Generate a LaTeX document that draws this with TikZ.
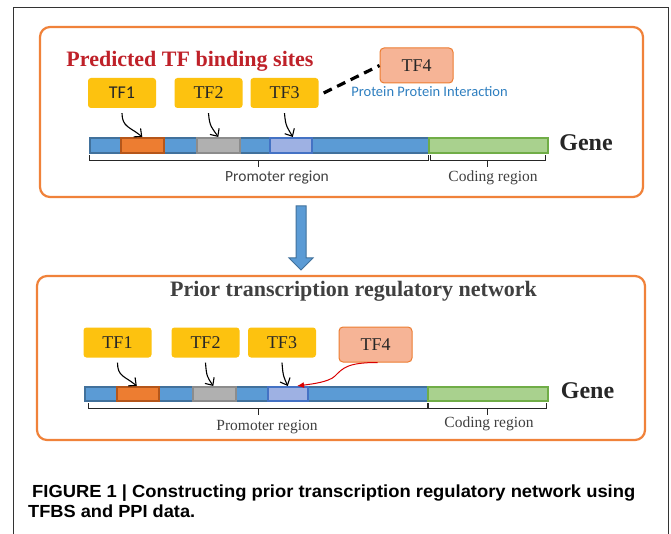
\documentclass[tikz,border=0pt]{standalone}
\usepackage{fontspec}
\usepackage{graphicx}
\setmainfont{Liberation Serif}
\newfontfamily\carlito{Carlito}
\newfontfamily\capfont{Liberation Sans}
\usetikzlibrary{arrows.meta}
\definecolor{panelorange}{HTML}{F0823A}
\definecolor{tfyellow}{HTML}{FDC20F}
\definecolor{tffourfill}{HTML}{F6B496}
\definecolor{tffourdraw}{HTML}{ED7D31}
\definecolor{titlered}{HTML}{BF2129}
\definecolor{ppiblue}{HTML}{2E7FC0}
\definecolor{genefill}{HTML}{5B9BD5}
\definecolor{genedraw}{HTML}{41719C}
\definecolor{codefill}{HTML}{A9D18E}
\definecolor{codedraw}{HTML}{70AD47}
\definecolor{segofill}{HTML}{ED7D31}
\definecolor{segodraw}{HTML}{B5561A}
\definecolor{seggfill}{HTML}{B0B0B0}
\definecolor{seggdraw}{HTML}{8C8C8C}
\definecolor{segbfill}{HTML}{9EB1E3}
\definecolor{segbdraw}{HTML}{4472C4}
\definecolor{darktext}{HTML}{404040}
\newcommand{\captionlineA}{\capfont\bfseries\fontsize{17.5}{20}\selectfont FIGURE 1 | Constructing prior transcription regulatory network using}
\newcommand{\captionlineB}{\capfont\bfseries\fontsize{17.5}{20}\selectfont TFBS and PPI data.}
\begin{document}
\begin{tikzpicture}[x=1pt,y=-1pt,
  panel/.style={draw=panelorange, line width=2.2pt, rounded corners=10pt},
  tfbox/.style={fill=tfyellow, rounded corners=3pt, minimum width=68pt, minimum height=30pt, inner sep=0pt, font=\fontsize{18}{21}\selectfont, text=black!85},
  tffour/.style={fill=tffourfill, draw=tffourdraw, line width=1pt, rounded corners=4pt, minimum width=73pt, minimum height=35pt, inner sep=0pt, font=\fontsize{18}{21}\selectfont, text=black!85},
  seg/.style={line width=1.6pt, inner sep=0pt, anchor=north west},
  bind/.style={line width=1.1pt, -{Straight Barb[length=6pt,width=11pt]}},
  ppi/.style={line width=3.2pt, dash pattern=on 9pt off 6pt},
  brace/.style={line width=0.8pt, black!85},
  regtext/.style={font=\fontsize{15.5}{18}\selectfont, text=darktext, anchor=base},
  genelabel/.style={font=\bfseries\fontsize{24}{28}\selectfont, text=black!85, anchor=base},
  ttl/.style={font=\bfseries\fontsize{22}{26}\selectfont, anchor=base}
]
\useasboundingbox (0,0) rectangle (671,534);
\fill[white] (0,0) rectangle (671,534);
\draw[line width=0.8pt, black!80] (13,560) -- (13,7) -- (668,7) -- (668,560);

% ---------- top panel ----------
\draw[panel] (40,27) rectangle (643,197);
\node[ttl, text=titlered] (title1) at (190,67) {Predicted TF binding sites};
\node[tfbox, font=\carlito\fontsize{18}{21}\selectfont] (t1) at (122,93) {TF1};
\node[tfbox] (t2) at (208.5,93) {TF2};
\node[tfbox] (t3) at (284.5,93) {TF3};
\node[tffour] (t4) at (416.5,65.5) {TF4};
\node[font=\carlito\fontsize{14.5}{17}\selectfont, text=ppiblue, anchor=base] (ppitxt) at (429.5,97) {Protein Protein Interaction};
\draw[ppi] ([xshift=5pt]t3.east) -- (t4.west);

\node[seg, fill=genefill, draw=genedraw, minimum width=339pt, minimum height=15pt] (prom) at (89,137) {};
\node[seg, fill=codefill, draw=codedraw, minimum width=119pt, minimum height=15pt] (code) at (428,137) {};
\node[seg, fill=segofill, draw=segodraw, minimum width=43pt, minimum height=15pt] (s1) at (120,137) {};
\node[seg, fill=seggfill, draw=seggdraw, minimum width=43pt, minimum height=15pt] (s2) at (196,137) {};
\node[seg, fill=segbfill, draw=segbdraw, minimum width=42pt, minimum height=15pt] (s3) at (269,137) {};

\draw[bind] ([yshift=-5pt]t1.south) .. controls +(0,14) and +(-12,-10) .. (s1.north);
\draw[bind] ([yshift=-5pt]t2.south) .. controls +(1,14) and +(-6,-9) .. (s2.north);
\draw[bind] ([yshift=-5pt]t3.south) .. controls +(1,14) and +(-5,-9) .. ([xshift=2pt]s3.north);

\draw[brace] (89,155) -- (89,160) -- (428,160) -- (428,155) (258,160) -- (258,167);
\draw[brace] (430,155) -- (430,160) -- (545,160) -- (545,155) (487,160) -- (487,167);
\node[regtext, font=\carlito\fontsize{15.5}{18}\selectfont] (promtxt) at (277,182) {Promoter region};
\node[regtext] (codetxt) at (493,182) {Coding region};
\node[genelabel] (gene1) at (586,151) {Gene};

% ---------- block arrow ----------
\draw[fill=genefill, draw=genedraw, line width=1pt] (296,206) -- (306,206) -- (306,258) -- (313,258) -- (301,270) -- (289,258) -- (296,258) -- cycle;

% ---------- bottom panel ----------
\draw[panel] (37,276) rectangle (645,440);
\node[ttl, text=darktext] (title2) at (353.5,297) {Prior transcription regulatory network};
\node[tfbox] (b1) at (117.5,342.5) {TF1};
\node[tfbox] (b2) at (205.5,342.5) {TF2};
\node[tfbox] (b3) at (282,342.5) {TF3};
\node[tffour] (b4) at (375.5,344.5) {TF4};

\node[seg, fill=genefill, draw=genedraw, minimum width=343pt, minimum height=14pt] (promb) at (84,386) {};
\node[seg, fill=codefill, draw=codedraw, minimum width=120pt, minimum height=14pt] (codeb) at (427,386) {};
\node[seg, fill=segofill, draw=segodraw, minimum width=42pt, minimum height=14pt] (s1b) at (116,386) {};
\node[seg, fill=seggfill, draw=seggdraw, minimum width=43pt, minimum height=14pt] (s2b) at (192,386) {};
\node[seg, fill=segbfill, draw=segbdraw, minimum width=40pt, minimum height=14pt] (s3b) at (267,386) {};

\draw[bind] ([yshift=-5pt]b1.south) .. controls +(0,14) and +(-12,-10) .. ([xshift=-1pt]s1b.north);
\draw[bind] ([yshift=-5pt]b2.south) .. controls +(1,14) and +(-6,-9) .. ([xshift=-1pt]s2b.north);
\draw[bind] ([yshift=-5pt]b3.south) .. controls +(1,14) and +(-4,-9) .. (s3b.north);
\coordinate (redend) at (297,386);
\draw[red!85!black, line width=1pt, -{Latex[length=7pt,width=6pt]}] ([xshift=2pt]b4.south) .. controls +(-30,0) and +(8,-8) .. (335,376) .. controls +(-6,6) and +(15,-2) .. (redend);

\draw[brace] (88,403) -- (88,408) -- (427,408) -- (427,403) (258,408) -- (258,415);
\draw[brace] (428,403) -- (428,408) -- (546,408) -- (546,403) (487,408) -- (487,415);
\node[regtext] (promtxtb) at (267,430) {Promoter region};
\node[regtext] (codetxtb) at (489,427) {Coding region};
\node[genelabel] (gene2) at (587.5,398) {Gene};

% ---------- caption ----------
\node[anchor=base west, inner sep=0pt] (cap1) at (32,497) {\resizebox{603pt}{\height}{\captionlineA}};
\node[anchor=base west, inner sep=0pt] (cap2) at (28,517) {\resizebox{167pt}{\height}{\captionlineB}};
\end{tikzpicture}
\end{document}
